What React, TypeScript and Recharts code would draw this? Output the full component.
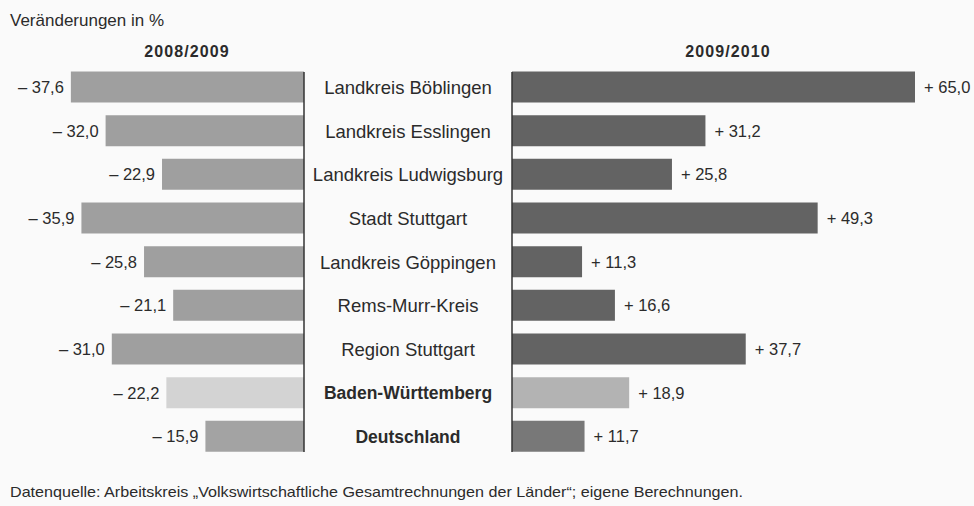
import React from 'react';
import { BarChart, Bar, XAxis, YAxis, Cell, LabelList } from 'recharts';

const categories = [
  'Landkreis Böblingen',
  'Landkreis Esslingen',
  'Landkreis Ludwigsburg',
  'Stadt Stuttgart',
  'Landkreis Göppingen',
  'Rems-Murr-Kreis',
  'Region Stuttgart',
  'Baden-Württemberg',
  'Deutschland',
];
const change0809 = [-37.6, -32.0, -22.9, -35.9, -25.8, -21.1, -31.0, -22.2, -15.9];
const change0910 = [65.0, 31.2, 25.8, 49.3, 11.3, 16.6, 37.7, 18.9, 11.7];
const boldCategories = ['Baden-Württemberg', 'Deutschland'];

const leftColors = ['#9f9f9f', '#9f9f9f', '#9f9f9f', '#9f9f9f', '#9f9f9f', '#9f9f9f', '#9f9f9f', '#d3d3d3', '#a3a3a3'];
const rightColors = ['#636363', '#636363', '#636363', '#636363', '#636363', '#636363', '#636363', '#b3b3b3', '#787878'];

const data = categories.map((name, i) => ({
  name,
  before: change0809[i],
  after: change0910[i],
}));

const FONT = '"Liberation Sans", Arial, sans-serif';
const TEXT = '#2b2b2b';
const AXIS = '#333333';
const H = 506;
const TOP = 72;
const BOTTOM = H - 452;
const CENTER_W = 208;
const LEFT_W = 512;

const fmt = (v: number) => {
  const s = Math.abs(v).toFixed(1).replace('.', ',');
  return v < 0 ? `– ${s}` : `+ ${s}`;
};

const LeftLabel = (props: any) => {
  const { x, y, width, height, value } = props;
  const edge = Math.min(x, x + width);
  return (
    <text x={edge - 7} y={y + height / 2} dy="0.36em" textAnchor="end" fontSize={16.5} fill={TEXT} fontFamily={FONT}>
      {fmt(value)}
    </text>
  );
};

const RightLabel = (props: any) => {
  const { x, y, width, height, value } = props;
  const edge = Math.max(x, x + width);
  return (
    <text x={edge + 9} y={y + height / 2} dy="0.36em" textAnchor="start" fontSize={16.5} fill={TEXT} fontFamily={FONT}>
      {fmt(value)}
    </text>
  );
};

const CenterTick = (props: any) => {
  const { y, payload } = props;
  const bold = boldCategories.includes(payload.value);
  return (
    <text
      x={LEFT_W - CENTER_W / 2}
      y={y}
      dy="0.36em"
      textAnchor="middle"
      fontSize={bold ? 17.5 : 18.5}
      fontWeight={bold ? 700 : 400}
      fill={TEXT}
      fontFamily={FONT}
    >
      {payload.value}
    </text>
  );
};

export default function App() {
  return (
    <div style={{ position: 'absolute', left: 0, top: 0, width: 974, height: H, background: '#fafafa', fontFamily: FONT }}>
      <div style={{ position: 'absolute', left: 0, top: 0 }}>
        <BarChart
          width={LEFT_W}
          height={H}
          data={data}
          layout="vertical"
          margin={{ top: TOP, bottom: BOTTOM, left: 56, right: 0 }}
        >
          <XAxis type="number" domain={[-40, 0]} hide />
          <YAxis
            type="category"
            dataKey="name"
            orientation="right"
            width={CENTER_W}
            padding={{ top: -6.5, bottom: -6.5 }}
            axisLine={{ stroke: AXIS, strokeWidth: 1.5 }}
            tickLine={false}
            tick={<CenterTick />}
            interval={0}
          />
          <Bar dataKey="before" barSize={31} isAnimationActive={false}>
            {data.map((d, i) => (
              <Cell key={d.name} fill={leftColors[i]} />
            ))}
            <LabelList dataKey="before" content={<LeftLabel />} />
          </Bar>
        </BarChart>
      </div>
      <div style={{ position: 'absolute', left: LEFT_W - 1, top: 0 }}>
        <BarChart
          width={974 - LEFT_W + 1}
          height={H}
          data={data}
          layout="vertical"
          margin={{ top: TOP, bottom: BOTTOM, left: 0, right: 28 }}
        >
          <XAxis type="number" domain={[0, 70]} hide />
          <YAxis
            type="category"
            dataKey="name"
            width={1}
            padding={{ top: -6.5, bottom: -6.5 }}
            axisLine={{ stroke: AXIS, strokeWidth: 1.5 }}
            tickLine={false}
            tick={false}
            interval={0}
          />
          <Bar dataKey="after" barSize={31} isAnimationActive={false}>
            {data.map((d, i) => (
              <Cell key={d.name} fill={rightColors[i]} />
            ))}
            <LabelList dataKey="after" content={<RightLabel />} />
          </Bar>
        </BarChart>
      </div>
      <svg width={974} height={H} style={{ position: 'absolute', left: 0, top: 0, pointerEvents: 'none' }}>
        <text x={10} y={26} fontSize={17} fill={TEXT} fontFamily={FONT}>
          Veränderungen in %
        </text>
        <text x={187} y={57} fontSize={16} fontWeight={700} letterSpacing={1.1} textAnchor="middle" fill={TEXT} fontFamily={FONT}>
          2008/2009
        </text>
        <text x={728} y={57} fontSize={16} fontWeight={700} letterSpacing={1.1} textAnchor="middle" fill={TEXT} fontFamily={FONT}>
          2009/2010
        </text>
        <text x={10} y={497} fontSize={15} fill={TEXT} fontFamily={FONT} textLength={733} lengthAdjust="spacingAndGlyphs">
          Datenquelle: Arbeitskreis „Volkswirtschaftliche Gesamtrechnungen der Länder“; eigene Berechnungen.
        </text>
      </svg>
    </div>
  );
}
